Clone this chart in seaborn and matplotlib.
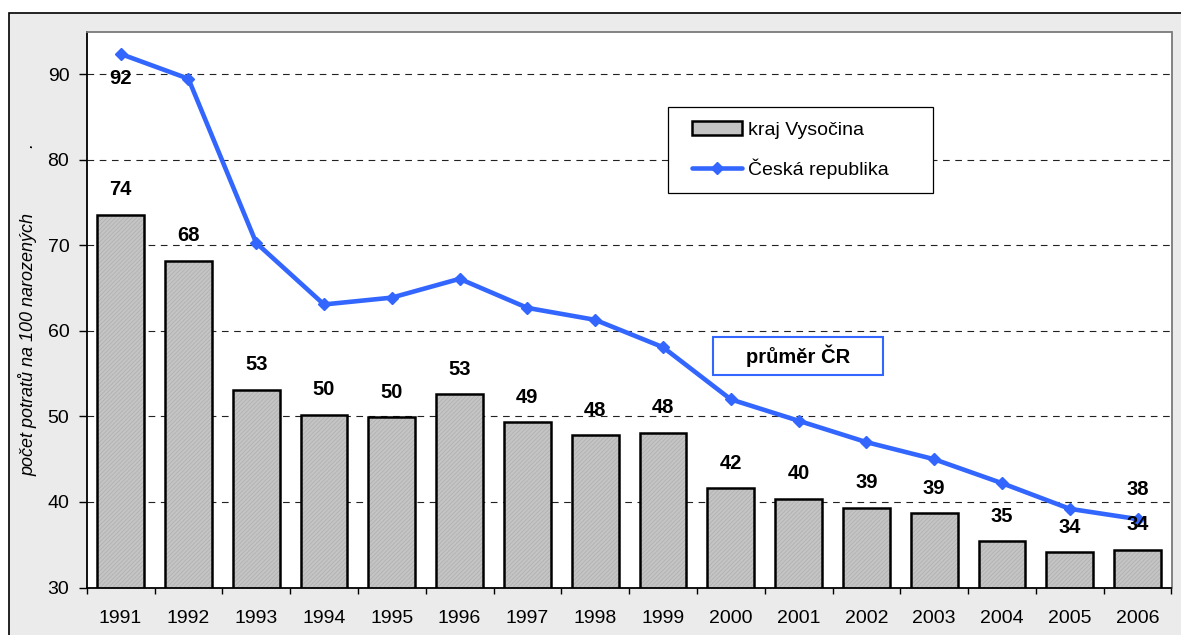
import numpy as np
import matplotlib
matplotlib.use('Agg')
import matplotlib.pyplot as plt
import seaborn as sns
from matplotlib.patches import Patch, Rectangle
from matplotlib.lines import Line2D
from matplotlib.ticker import FixedLocator, NullFormatter

# ---------------- data ----------------
years = [str(y) for y in range(1991, 2007)]
vysocina = [73.6, 68.2, 53.1, 50.2, 49.9, 52.6, 49.3, 47.8, 48.1,
            41.6, 40.4, 39.3, 38.7, 35.4, 34.1, 34.4]
cr = [92.4, 89.5, 70.3, 63.1, 63.9, 66.1, 62.7, 61.3, 58.1,
      52.0, 49.5, 47.0, 45.0, 42.2, 39.2, 38.0]
series_names = ['kraj Vysočina', 'Česká republika']
y_label = 'počet potratů na 100 narozených' + ' ' * 13 + '.'
note_text = 'průměr ČR'
y_ticks = [30, 40, 50, 60, 70, 80, 90]
y_limits = [30, 95]

# ---------------- style ----------------
sns.set_style('white')
plt.rcParams['font.family'] = ['Liberation Sans', 'DejaVu Sans']
plt.rcParams['font.size'] = 14
plt.rcParams['text.color'] = 'black'
plt.rcParams['axes.labelcolor'] = 'black'
plt.rcParams['xtick.color'] = 'black'
plt.rcParams['ytick.color'] = 'black'
plt.rcParams['hatch.linewidth'] = 0.45

BLUE = '#3366ff'
BAR_FACE = '#c4c4c4'
BAR_HATCH = '#acacac'
BG = '#ebebeb'
FS = 14
FS_LAB = 14.5

W, H = 1181, 635
fig = plt.figure(figsize=(W / 100, H / 100), dpi=100, facecolor='white')

# outer grey frame
fig.patches.append(Rectangle((9 / W, -0.1), 1.2, (H - 13) / H + 0.1,
                             transform=fig.transFigure, facecolor=BG,
                             edgecolor='black', linewidth=1.2, zorder=-10))

L, R, T, B = 86.7, 1171.5, 31.7, 587.5
ax = fig.add_axes([L / W, (H - B) / H, (R - L) / W, (B - T) / H])
ax.set_facecolor('white')

pos = np.arange(len(years))

# bars: hatched fill, then black outline
sns.barplot(x=years, y=vysocina, color=BAR_FACE, edgecolor=BAR_HATCH,
            linewidth=0, hatch='////////', width=0.69, errorbar=None,
            saturation=1, ax=ax, zorder=2)
sns.barplot(x=years, y=vysocina, color='black', fill=False,
            linewidth=1.8, width=0.69, errorbar=None, ax=ax, zorder=3)

# line
sns.lineplot(x=pos, y=cr, color=BLUE, linewidth=3.3, marker='D',
             markersize=6.5, markeredgecolor=BLUE, markeredgewidth=1,
             ax=ax, legend=False, zorder=4)

# bar value labels
for i, v in enumerate(vysocina):
    ax.annotate(f'{v:.0f}', (i, v), xytext=(0, 18), textcoords='offset points',
                ha='center', va='center', fontweight='bold', fontsize=FS_LAB,
                zorder=6)
# line value labels (first below, last above)
ax.annotate(f'{cr[0]:.0f}', (0, cr[0]), xytext=(0, -18), textcoords='offset points',
            ha='center', va='center', fontweight='bold', fontsize=FS_LAB, zorder=6)
ax.annotate(f'{cr[-1]:.0f}', (len(cr) - 1, cr[-1]), xytext=(0, 21),
            textcoords='offset points', ha='center', va='center',
            fontweight='bold', fontsize=FS_LAB, zorder=6)

# axes limits / ticks
ax.set_xlim(-0.5, len(years) - 0.5)
ax.set_ylim(*y_limits)
ax.set_yticks(y_ticks)
ax.set_yticklabels([str(t) for t in y_ticks])
ax.set_xticks(pos)
ax.set_xticklabels(years)
ax.xaxis.set_minor_locator(FixedLocator(np.arange(-0.5, len(years), 1.0)))
ax.xaxis.set_minor_formatter(NullFormatter())
ax.tick_params(axis='x', which='major', length=0, pad=16, labelsize=FS,
               colors='black')
ax.tick_params(axis='x', which='minor', length=4.5, width=1, color='black',
               direction='out', bottom=True)
ax.tick_params(axis='y', which='major', length=5.5, width=1, color='black',
               direction='out', left=True, pad=7, labelsize=FS)

ax.set_xlabel('')
ax.set_ylabel(y_label, fontstyle='italic', fontsize=13)
ax.yaxis.set_label_coords(-0.045, 0.5)

# grid
ax.yaxis.grid(True, color='#222222', linestyle=(0, (6, 5)), linewidth=0.8,
              zorder=1)
ax.xaxis.grid(False)
ax.set_axisbelow(True)

for side in ['left', 'bottom']:
    ax.spines[side].set_color('black')
    ax.spines[side].set_linewidth(1.3)
for side in ['top', 'right']:
    ax.spines[side].set_color('#7a7a7a')
    ax.spines[side].set_linewidth(1.3)
for s in ax.spines.values():
    s.set_zorder(5)

# legend frame and legend
lx0, lx1 = (668 - L) / (R - L), (933 - L) / (R - L)
ly0, ly1 = (B - 193) / (B - T), (B - 107) / (B - T)
ax.add_patch(Rectangle((lx0, ly0), lx1 - lx0, ly1 - ly0, transform=ax.transAxes,
                       facecolor='white', edgecolor='black', linewidth=0.9,
                       zorder=7))
handles = [
    Patch(facecolor=BAR_FACE, edgecolor='black', linewidth=1.8),
    Line2D([0], [0], color=BLUE, linewidth=3.3, marker='D', markersize=6.5,
           markeredgecolor=BLUE),
]
leg = ax.legend(handles, series_names, loc='center left',
                bbox_to_anchor=((691.7 - L) / (R - L), (B - 150) / (B - T)),
                frameon=False, borderpad=0, borderaxespad=0,
                handlelength=2.6, handleheight=0.68, handletextpad=0.3,
                labelspacing=1.0, numpoints=1, fontsize=FS)
leg.set_zorder(8)

# "průměr ČR" box
bx0, bx1 = (713 - L) / (R - L), (883 - L) / (R - L)
by0, by1 = (B - 375) / (B - T), (B - 337) / (B - T)
ax.add_patch(Rectangle((bx0, by0), bx1 - bx0, by1 - by0, transform=ax.transAxes,
                       facecolor='white', edgecolor=BLUE, linewidth=1.5,
                       zorder=7))
ax.text((bx0 + bx1) / 2, (by0 + by1) / 2, note_text, transform=ax.transAxes,
        ha='center', va='center', fontweight='bold', fontsize=FS_LAB, zorder=8)

fig.savefig('out.png', dpi=100, facecolor='white')
